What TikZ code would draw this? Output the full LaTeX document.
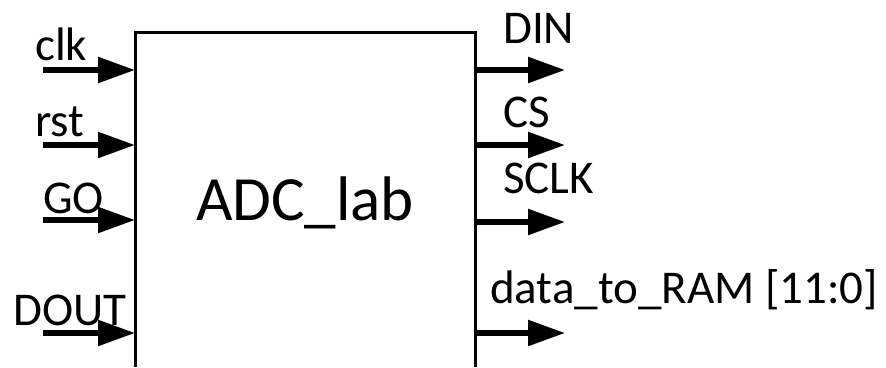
\documentclass[tikz,border=0pt]{standalone}
\usepackage{fontspec}
\setmainfont{Carlito}
\usetikzlibrary{arrows.meta}

\tikzset{
  port/.style={black, line width=5.5pt, -{Triangle[length=37pt, width=25pt]}},
  portlabel/.style={black, anchor=base west, inner sep=0pt, font=\fontsize{47}{54}\selectfont},
}

\begin{document}
\begin{tikzpicture}[x=1pt, y=-1pt]
\useasboundingbox (0, 0) rectangle (886, 367);
% module outline, open at the bottom
\draw[black, line width=3pt] (135, 367) -- (135, 32) -- (475, 32) -- (475, 367);
\node[black, inner sep=0pt, anchor=base, font=\fontsize{63}{72}\selectfont] (title) at (305, 220) {ADC\_lab};
% inputs
\coordinate (clk-src) at (43, 70);   \coordinate (clk-pin) at (135, 70);
\coordinate (rst-src) at (43, 145);  \coordinate (rst-pin) at (135, 145);
\coordinate (go-src) at (43, 220);   \coordinate (go-pin) at (135, 220);
\coordinate (dout-src) at (43, 333); \coordinate (dout-pin) at (135, 333);
\node[portlabel] (clk) at (35, 60) {clk};
\node[portlabel] (rst) at (35, 136) {rst};
\node[portlabel] (go) at (43, 213) {GO};
\node[portlabel] (dout) at (13, 325) {DOUT};
\draw[port] (clk-src) -- (clk-pin);
\draw[port] (rst-src) -- (rst-pin);
\draw[port] (go-src) -- (go-pin);
\draw[port] (dout-src) -- (dout-pin);
% outputs
\coordinate (din-pin) at (475, 70);  \coordinate (din-dst) at (565, 70);
\coordinate (cs-pin) at (475, 145);  \coordinate (cs-dst) at (565, 145);
\coordinate (sclk-pin) at (475, 222); \coordinate (sclk-dst) at (565, 222);
\coordinate (data-pin) at (475, 333); \coordinate (data-dst) at (565, 333);
\node[portlabel] (din) at (503, 43) {DIN};
\node[portlabel] (cs) at (503, 127) {CS};
\node[portlabel] (sclk) at (503, 193) {SCLK};
\node[portlabel] (data) at (490, 303) {data\_to\_RAM [11:0]};
\draw[port] (din-pin) -- (din-dst);
\draw[port] (cs-pin) -- (cs-dst);
\draw[port] (sclk-pin) -- (sclk-dst);
\draw[port] (data-pin) -- (data-dst);
\end{tikzpicture}
\end{document}
